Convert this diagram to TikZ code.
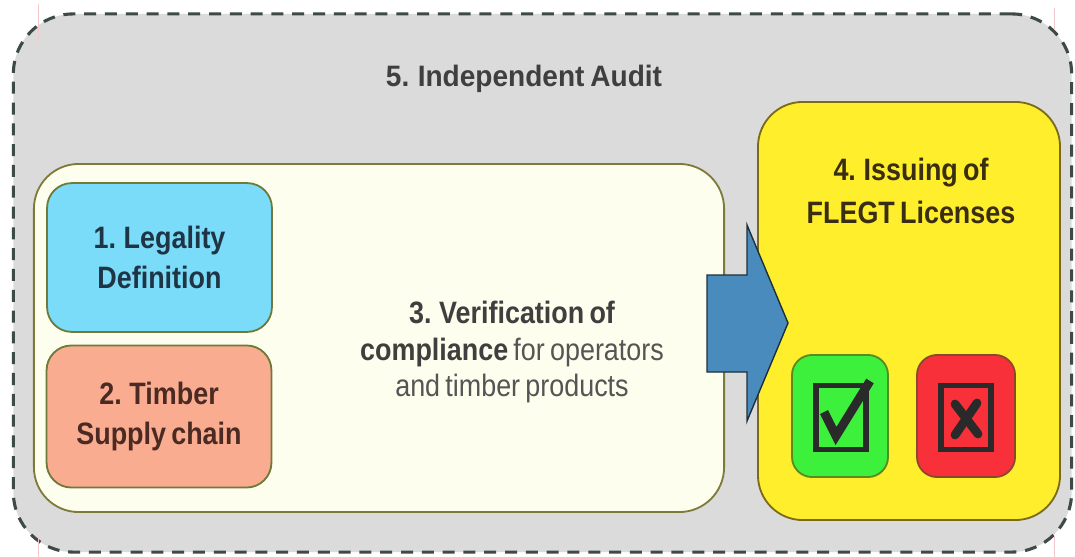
\documentclass[tikz,border=0pt]{standalone}
\usepackage{fontspec}
\setmainfont{Liberation Sans}[FakeStretch=0.87, WordSpace=0.7]
\newfontfamily\ttlfont{Liberation Sans}[FakeStretch=0.95, WordSpace=0.75]
\usetikzlibrary{positioning}

\definecolor{auditbg}{HTML}{DBDBDB}
\definecolor{auditline}{HTML}{3E4A45}
\definecolor{verifbg}{HTML}{FEFEEE}
\definecolor{verifline}{HTML}{7D7A3A}
\definecolor{legalbg}{HTML}{7ADCF8}
\definecolor{supplybg}{HTML}{F9AC90}
\definecolor{boxline}{HTML}{6E7A3A}
\definecolor{issuebg}{HTML}{FFEE2C}
\definecolor{issueline}{HTML}{7A6A1A}
\definecolor{okbg}{HTML}{3CF03C}
\definecolor{okline}{HTML}{5A8A20}
\definecolor{nokbg}{HTML}{F7303A}
\definecolor{nokline}{HTML}{8A4A2A}
\definecolor{arrowbg}{HTML}{4A8BBE}
\definecolor{arrowline}{HTML}{1F2F3A}
\definecolor{ink}{HTML}{2A2A2A}
\definecolor{legaltxt}{HTML}{1F3545}
\definecolor{supplytxt}{HTML}{4A2A22}
\definecolor{issuetxt}{HTML}{3A2E12}
\definecolor{guide}{HTML}{F2C8CC}

\begin{document}
\begin{tikzpicture}[
      x=0.025cm, y=-0.025cm,
      font=\fontsize{22}{27}\selectfont\bfseries,
      band/.style={draw, rounded corners=#1, line width=1.3pt, inner sep=0pt},
      blk/.style={draw=boxline, rounded corners=0.62cm, line width=1.3pt, align=center, inner sep=0pt, minimum width=5.62cm},
      ttl/.style={font=\ttlfont\fontsize{21}{25}\selectfont\bfseries, text=ink!90},
      tickbox/.style={draw=ink, line width=0.13cm, inner sep=0pt, minimum width=1.25cm, minimum height=1.58cm},
      mk/.style={draw=ink, line width=0.22cm},
      ar/.style={draw=arrowline, fill=arrowbg, line width=1pt, line join=miter}
    ]
    \useasboundingbox (0,0) rectangle (1075,557);

    % ===== Independent Audit (outer frame) =====
    \node[band=1.5cm, fill=auditbg, draw=auditline, line width=2.2pt, dash pattern=on 0.3cm off 0.22cm,
          minimum width=26.45cm, minimum height=13.45cm] (audit) at (542.5,283) {};
    \node[ttl] (auditttl) at (524,79) {5. Independent Audit};
    \draw[guide, line width=0.6pt] (38,4) -- (38,42);
    \draw[guide, line width=0.6pt] (38,536) -- (38,557);
    \draw[guide, line width=0.6pt] (1054,8) -- (1054,30);
    \draw[guide, line width=0.6pt] (1054,536) -- (1054,557);

    % ===== Verification of compliance =====
    \node[band=1.12cm, fill=verifbg, draw=verifline, minimum width=17.25cm, minimum height=8.7cm] (verif) at (379,338) {};
    \node[blk, fill=legalbg, text=legaltxt, minimum height=3.72cm] (legal) at (159.5,257.5) {1. Legality\\[1pt]Definition};
    \node[blk, fill=supplybg, text=supplytxt, minimum height=3.55cm] (supply) at (159,416.5) {2. Timber\\[1pt]Supply chain};
    \node[align=center, text=ink!90, font=\fontsize{22}{26}\selectfont\bfseries] (veriftxt) at (512,352)
      {3. Verification of\\compliance {\mdseries\color{ink!80} for operators}\\{\mdseries\color{ink!80}and timber products}};

    % ===== Issuing of FLEGT Licenses =====
    \node[band=1.12cm, fill=issuebg, draw=issueline, minimum width=7.55cm, minimum height=10.45cm] (issue) at (909,311) {};
    \node[align=center, text=issuetxt, font=\fontsize{22}{30}\selectfont\bfseries] (issuetxt) at (911,191) {4. Issuing of\\FLEGT Licenses};
    \node[blk, fill=okbg, draw=okline, rounded corners=0.5cm, minimum width=2.4cm, minimum height=3.05cm] (ok) at (840,416) {};
    \node[blk, fill=nokbg, draw=nokline, rounded corners=0.5cm, minimum width=2.45cm, minimum height=3.05cm] (nok) at (966,416) {};
    \node[tickbox] (okbox) at (841,417.5) {};
    \node[tickbox] (nokbox) at (966,417.5) {};
    \draw[mk, line join=miter] (824,412) -- (836,436) -- (870,381);
    \draw[mk, line cap=round] (955,404) -- (978,434);
    \draw[mk, line cap=round] (977,403) -- (955,435);

    % ===== flow arrow =====
    \draw[ar] (707,275) -- (747,275) -- (747,225) -- (788,323) -- (747,421) -- (747,372) -- (707,372) -- cycle;
    \end{tikzpicture}
\end{document}
